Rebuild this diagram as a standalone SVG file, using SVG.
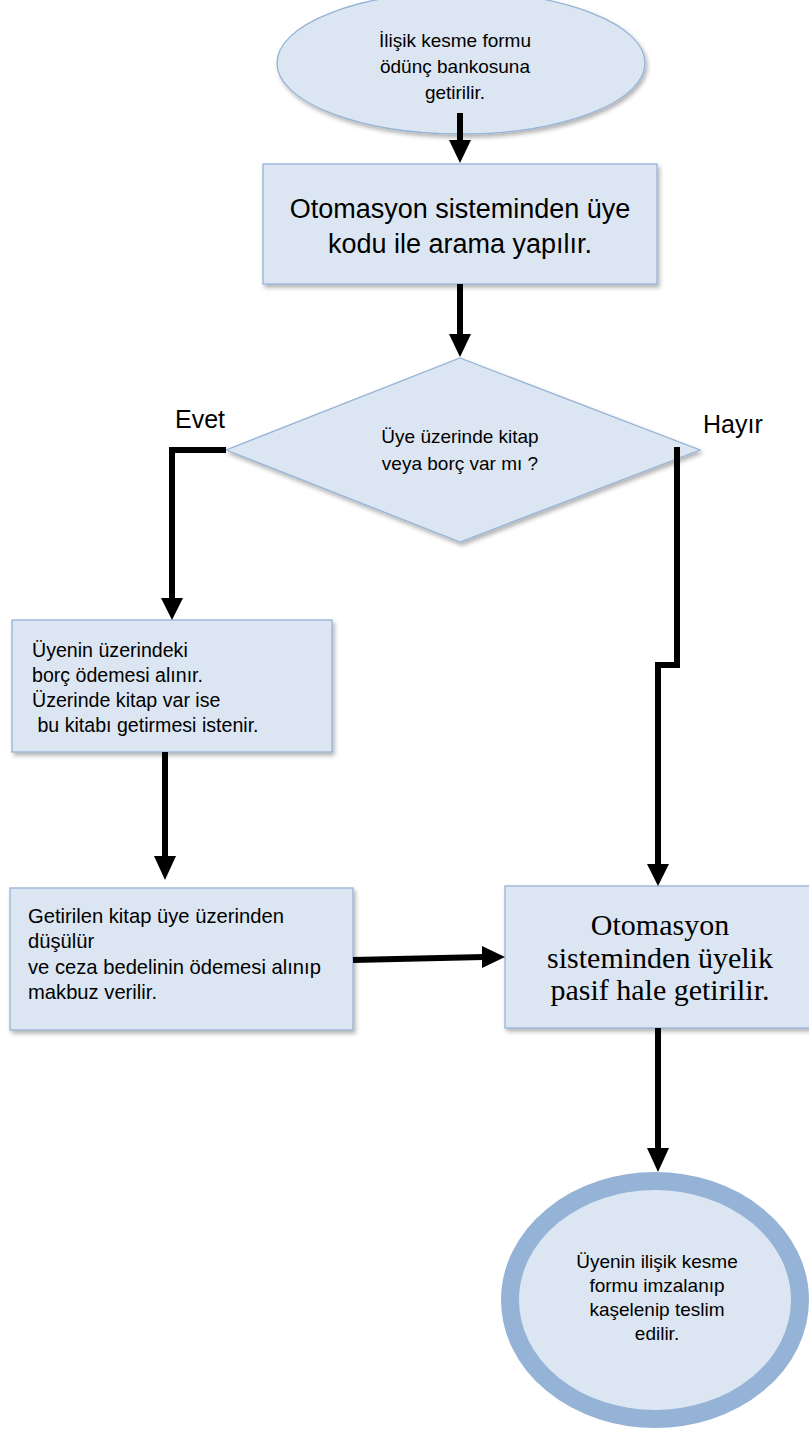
<svg xmlns="http://www.w3.org/2000/svg" width="809" height="1430" viewBox="0 0 809 1430">
<style>
.shape{fill:#dce6f2;stroke:#95b3d7;stroke-width:1.3;filter:url(#sh)}
.t{font-family:"Liberation Sans",Arial,sans-serif;fill:#000}
.c{text-anchor:middle}
.ln{fill:none;stroke:#000;stroke-width:6}
.hd{fill:#000}
</style>
<defs>
<filter id="sh" x="-10%" y="-10%" width="125%" height="130%">
<feDropShadow dx="2" dy="3" stdDeviation="2" flood-color="#000" flood-opacity="0.3"/>
</filter>
</defs>
<rect width="809" height="1430" fill="#fff"/>
<g id="n-start">
<ellipse class="shape" cx="461" cy="63" rx="184" ry="71"/>
<text class="t c" font-size="19"><tspan x="455" y="47">İlişik kesme formu</tspan><tspan x="455" y="73">ödünç bankosuna</tspan><tspan x="455" y="99">getirilir.</tspan></text>
</g>
<g id="n-search">
<rect class="shape" x="263" y="164" width="394" height="120"/>
<text class="t c" font-size="27"><tspan x="460" y="218">Otomasyon sisteminden üye</tspan><tspan x="460" y="253">kodu ile arama yapılır.</tspan></text>
</g>
<g id="n-decision">
<polygon class="shape" points="460,358 700,450 460,542 226,450"/>
<text class="t c" font-size="19"><tspan x="460" y="443">Üye üzerinde kitap</tspan><tspan x="460" y="470">veya borç var mı ?</tspan></text>
</g>
<g id="n-debt">
<rect class="shape" x="12" y="620" width="320" height="132"/>
<text class="t" font-size="19.6"><tspan x="32" y="657">Üyenin üzerindeki</tspan><tspan x="32" y="682">borç ödemesi alınır.</tspan><tspan x="32" y="707">Üzerinde kitap var ise</tspan><tspan x="32" y="732"> bu kitabı getirmesi istenir.</tspan></text>
</g>
<g id="n-return">
<rect class="shape" x="10" y="888" width="343" height="142"/>
<text class="t" font-size="20.2"><tspan x="28" y="923">Getirilen kitap üye üzerinden</tspan><tspan x="28" y="948">düşülür</tspan><tspan x="28" y="974">ve ceza bedelinin ödemesi alınıp</tspan><tspan x="28" y="999">makbuz verilir.</tspan></text>
</g>
<g id="n-passive">
<rect class="shape" x="505" y="886" width="310" height="142"/>
<text font-family="Liberation Serif,Times New Roman,serif" font-size="30" text-anchor="middle" fill="#000"><tspan x="660" y="935">Otomasyon</tspan><tspan x="660" y="968">sisteminden üyelik</tspan><tspan x="660" y="1000">pasif hale getirilir.</tspan></text>
</g>
<g id="n-end">
<ellipse cx="655" cy="1300" rx="145" ry="119" fill="#dce6f2" stroke="#95b3d7" stroke-width="18"/>
<text class="t c" font-size="19"><tspan x="657" y="1268">Üyenin ilişik kesme</tspan><tspan x="657" y="1292">formu imzalanıp</tspan><tspan x="657" y="1316">kaşelenip teslim</tspan><tspan x="657" y="1340">edilir.</tspan></text>
</g>
<g id="labels">
<text class="t" font-size="25" x="175" y="428">Evet</text>
<text class="t" font-size="25" x="703" y="433">Hayır</text>
</g>
<g id="connectors">
<line class="ln" x1="460" y1="113" x2="460" y2="142"/>
<polygon class="hd" points="449,140 471,140 460,163"/>
<line class="ln" x1="460" y1="284" x2="460" y2="336"/>
<polygon class="hd" points="449,334 471,334 460,357"/>
<polyline class="ln" points="226,450 172,450 172,600"/>
<polygon class="hd" points="161,598 183,598 172,620"/>
<line class="ln" x1="165" y1="752" x2="165" y2="858"/>
<polygon class="hd" points="154,856 176,856 165,880"/>
<line class="ln" x1="353" y1="960" x2="484" y2="957"/>
<polygon class="hd" points="482,946 482,968 505,957"/>
<polyline class="ln" points="677,447 677,665 658,665 658,866"/>
<polygon class="hd" points="647,864 669,864 658,886"/>
<line class="ln" x1="658" y1="1028" x2="658" y2="1150"/>
<polygon class="hd" points="647,1148 669,1148 658,1172"/>
</g>
</svg>
